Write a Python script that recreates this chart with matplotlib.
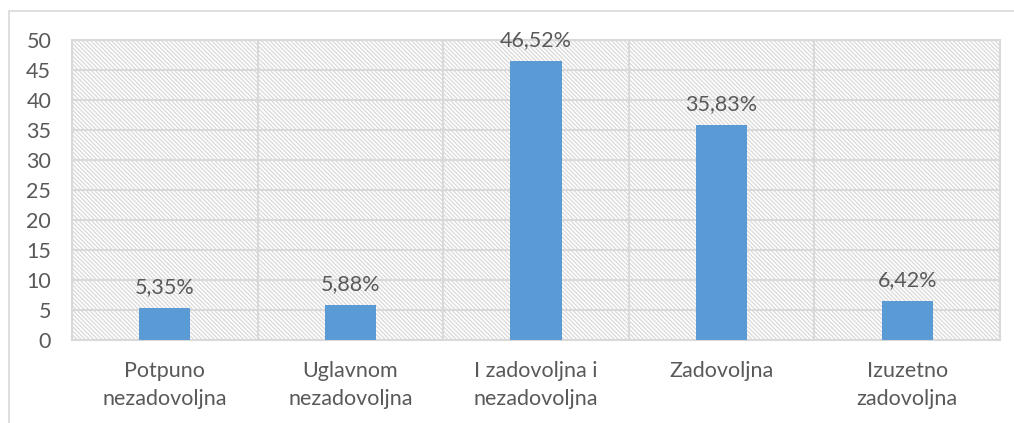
import matplotlib.pyplot as plt
import matplotlib.patches as mpatches
import numpy as np

categories = ['Potpuno\nnezadovoljna', 'Uglavnom\nnezadovoljna', 'I zadovoljna i\nnezadovoljna',
              'Zadovoljna', 'Izuzetno\nzadovoljna']
values = [5.35, 5.88, 46.52, 35.83, 6.42]
labels = ['5,35%', '5,88%', '46,52%', '35,83%', '6,42%']

plt.rcParams['font.family'] = ['Lato', 'DejaVu Sans']
plt.rcParams['hatch.color'] = '#d9d9d9'
plt.rcParams['hatch.linewidth'] = 0.9

text_col = '#595959'
grid_col = '#d9d9d9'
fs = 15.5

fig = plt.figure(figsize=(10.14, 4.23), dpi=100)
ax = fig.add_axes([72 / 1014, 1 - 340 / 423, 928 / 1014, 300 / 423])

# outer chart border
fig.patches.append(mpatches.Rectangle((9 / 1014, -0.05), 1.1, 1 - 11 / 423 + 0.05,
                                      transform=fig.transFigure, fill=False,
                                      edgecolor='#d9d9d9', linewidth=1.2))

# hatched plot background
ax.add_patch(mpatches.Rectangle((0, 0), 1, 1, transform=ax.transAxes, facecolor='white',
                                edgecolor='#d9d9d9', hatch='\\' * 8, linewidth=0, zorder=0))

x = np.arange(len(categories))
ax.bar(x, values, width=0.275, color='#5b9bd5', zorder=3)

for xi, v, lab in zip(x, values, labels):
    ax.annotate(lab, (xi, v), xytext=(0, 8), textcoords='offset points',
                ha='center', va='bottom', fontsize=fs, color=text_col)

ax.set_xlim(-0.5, len(categories) - 0.5)
ax.set_ylim(0, 50)
ax.set_yticks(np.arange(0, 51, 5))
ax.set_xticks(x)
ax.set_xticklabels(categories, fontsize=fs, color=text_col, linespacing=1.5)
ax.set_xticks(np.arange(-0.5, len(categories), 1), minor=True)
ax.tick_params(axis='y', labelsize=fs, labelcolor=text_col, length=0, pad=15)
ax.tick_params(axis='x', which='both', length=0, pad=15)

ax.grid(axis='y', color=grid_col, linewidth=1.5, zorder=1)
ax.grid(axis='x', which='minor', color=grid_col, linewidth=1.5, zorder=1)
ax.set_axisbelow(True)
for s in ax.spines.values():
    s.set_color(grid_col)
    s.set_linewidth(1.5)

fig.savefig('out.png', dpi=100)
